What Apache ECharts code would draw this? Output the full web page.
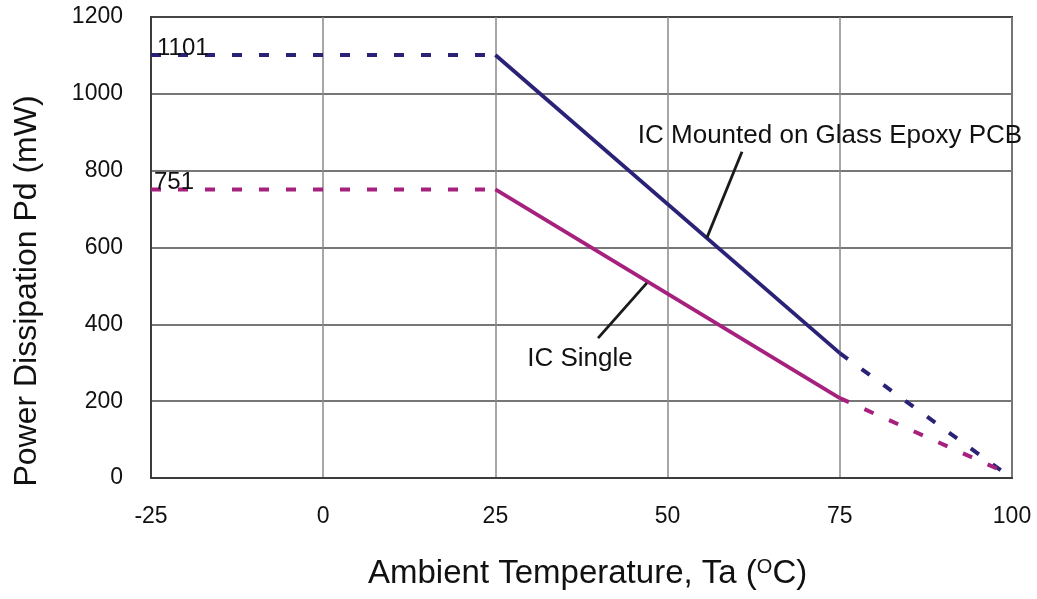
<!DOCTYPE html>
<html><head><meta charset="utf-8">
<script src="https://cdn.jsdelivr.net/npm/echarts@6/dist/echarts.min.js"></script>
<style>html,body{margin:0;padding:0;background:#fff}#c{width:1037px;height:599px}</style>
</head><body><div id="c"></div>
<script>
// Data
const xTicks = [-25, 0, 25, 50, 75, 100];
const yTicks = [0, 200, 400, 600, 800, 1000, 1200];
const epoxyFlat = [[-25, 1101], [25, 1101]];
const epoxyDerate = [[25, 1101], [75, 325]];
const epoxyTail = [[75, 325], [99, 12]];
const singleFlat = [[-25, 751], [25, 751]];
const singleDerate = [[25, 751], [75, 208]];
const singleTail = [[75, 208], [99, 15]];
const epoxyLeader = [[60.8, 849], [55.7, 625]];
const singleLeader = [[47.0, 508], [39.9, 364]];
const epoxyName = 'IC Mounted on Glass Epoxy PCB';
const singleName = 'IC Single';
const epoxyValueLabel = '1101';
const singleValueLabel = '751';
const xTitle = 'Ambient Temperature, Ta ({sup|O}C)';
const yTitle = 'Power Dissipation Pd (mW)';

const BLUE = '#2a2277';
const MAG = '#a6207e';
const TXT = '#111111';
const FONT = "'Liberation Sans', Arial, Helvetica, sans-serif";

function line(data, color, dashed, width) {
  return {
    type: 'line', data: data, symbol: 'none', silent: true,
    lineStyle: { color: color, width: width, type: dashed ? [10, 17] : 'solid', cap: 'butt' },
    z: 3
  };
}

const chart = echarts.init(document.getElementById('c'), null, { renderer: 'canvas' });
chart.setOption({
  animation: false,
  backgroundColor: '#fff',
  grid: { left: 151, right: 25, top: 17, bottom: 121, show: true, borderColor: '#3c3c3c', borderWidth: 2, backgroundColor: 'transparent' },
  xAxis: {
    type: 'value', min: xTicks[0], max: xTicks[xTicks.length - 1], interval: 25,
    axisLine: { show: true, onZero: false, lineStyle: { color: '#3c3c3c', width: 2 } },
    axisTick: { show: false },
    axisLabel: { margin: 27, color: TXT, fontSize: 23, fontFamily: FONT, formatter: v => String(v) },
    splitLine: { show: true, lineStyle: { color: '#8a8a8a', width: 1.5 } }
  },
  yAxis: {
    type: 'value', min: yTicks[0], max: yTicks[yTicks.length - 1], interval: 200,
    axisLine: { show: true, onZero: false, lineStyle: { color: '#3c3c3c', width: 2 } },
    axisTick: { show: false },
    axisLabel: { margin: 28, color: TXT, fontSize: 23, fontFamily: FONT, formatter: v => String(v) },
    splitLine: { show: true, lineStyle: { color: '#4a4a4a', width: 1.5 } }
  },
  graphic: [
    {
      type: 'text', left: 368, top: 557, silent: true,
      style: {
        text: xTitle, fill: TXT, fontSize: 33, fontFamily: FONT,
        rich: { sup: { fontSize: 20, fontFamily: FONT, fill: TXT, verticalAlign: 'top' } }
      }
    },
    {
      type: 'text', x: 27, y: 291, rotation: Math.PI / 2, silent: true,
      style: { text: yTitle, fill: TXT, fontSize: 32, fontFamily: FONT, align: 'center', verticalAlign: 'middle' }
    }
  ],
  series: [
    line(epoxyFlat, BLUE, true, 4),
    line(epoxyDerate, BLUE, false, 3.8),
    line(epoxyTail, BLUE, true, 4),
    line(singleFlat, MAG, true, 4),
    line(singleDerate, MAG, false, 3.8),
    line(singleTail, MAG, true, 4),
    {
      type: 'scatter', silent: true, symbolSize: 0, z: 5,
      itemStyle: { opacity: 1 },
      data: [
        { value: epoxyFlat[0], label: { show: true, formatter: epoxyValueLabel, position: 'right', distance: 6, offset: [0, -7] } },
        { value: singleFlat[0], label: { show: true, formatter: singleValueLabel, position: 'right', distance: 3, offset: [0, -7] } }
      ],
      label: { color: TXT, opacity: 1, fontSize: 24, fontFamily: FONT }
    },
    {
      type: 'line', data: epoxyLeader, symbol: 'none', silent: true, z: 4,
      lineStyle: { color: '#1a1a1a', width: 2.8 }
    },
    {
      type: 'line', data: singleLeader, symbol: 'none', silent: true, z: 4,
      lineStyle: { color: '#1a1a1a', width: 2.8 }
    },
    {
      type: 'scatter', silent: true, symbolSize: 0, z: 5,
      itemStyle: { opacity: 1 },
      data: [
        { value: epoxyLeader[0], label: { show: true, formatter: epoxyName, position: 'top', distance: 0, offset: [88, -3] } },
        { value: singleLeader[1], label: { show: true, formatter: singleName, position: 'bottom', distance: 0, offset: [-18, 8] } }
      ],
      label: { color: TXT, opacity: 1, fontSize: 26, fontFamily: FONT }
    }
  ]
});
</script>
</body></html>
